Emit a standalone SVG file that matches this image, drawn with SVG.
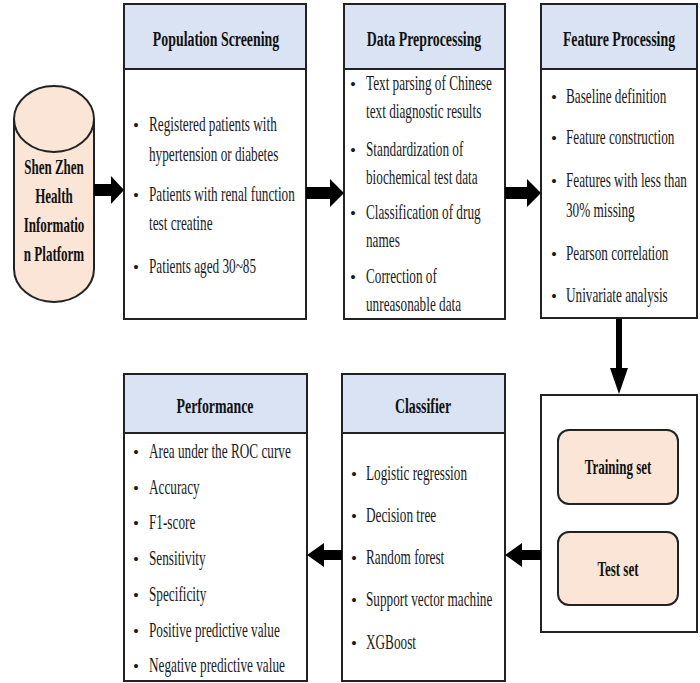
<svg xmlns="http://www.w3.org/2000/svg" width="700" height="683" viewBox="0 0 700 683">
<style>
.box{fill:#fff;stroke:#222;stroke-width:2}
.hdr{fill:#dae3f3;stroke:#222;stroke-width:2}
.peach{fill:#fbe5d6;stroke:#222;stroke-width:2}
.t{font-family:"Liberation Serif","Times New Roman",serif;font-size:21px;fill:#1a1a1a}
.u{font-family:"Liberation Serif","Times New Roman",serif;font-size:17px;fill:#1a1a1a;text-anchor:middle}
.b{font-family:"Liberation Serif","Times New Roman",serif;font-size:22px;font-weight:bold;fill:#111;text-anchor:middle}
.c{font-family:"Liberation Serif","Times New Roman",serif;font-size:21px;font-weight:bold;fill:#111;text-anchor:middle}
.arr{fill:#000}
</style>
<rect width="700" height="683" fill="#fff"/>

<g id="source">
<path class="peach" d="M14,119 L14,269 A40,33 0 0 0 94,269 L94,119"/>
<ellipse class="peach" cx="54" cy="119" rx="40" ry="33"/>
<g transform="translate(54,0) scale(0.62,1)">
<text class="c" x="0" y="174">Shen Zhen</text>
<text class="c" x="0" y="203">Health</text>
<text class="c" x="0" y="232">Informatio</text>
<text class="c" x="0" y="261">n Platform</text>
</g>
</g>

<g id="population-screening">
<rect class="box" x="124" y="4" width="182" height="315"/>
<rect class="hdr" x="124" y="4" width="182" height="65"/>
<text class="b" transform="translate(216,46) scale(0.63,1)">Population Screening</text>
<g class="u">
<text x="136" y="131">•</text>
<text x="136" y="201">•</text>
<text x="136" y="273">•</text>
</g>
<g transform="translate(149,0) scale(0.63,1)">
<text class="t" x="0" y="131">Registered patients with</text>
<text class="t" x="0" y="161">hypertension or diabetes</text>
<text class="t" x="0" y="201">Patients with renal function</text>
<text class="t" x="0" y="230">test creatine</text>
<text class="t" x="0" y="273">Patients aged 30~85</text>
</g>
</g>

<g id="data-preprocessing">
<rect class="box" x="344" y="4" width="161" height="315"/>
<rect class="hdr" x="344" y="4" width="161" height="65"/>
<text class="b" transform="translate(424,46) scale(0.63,1)">Data Preprocessing</text>
<g class="u">
<text x="353" y="90">•</text>
<text x="353" y="156">•</text>
<text x="353" y="219">•</text>
<text x="353" y="283">•</text>
</g>
<g transform="translate(366,0) scale(0.63,1)">
<text class="t" x="0" y="90">Text parsing of Chinese</text>
<text class="t" x="0" y="118">text diagnostic results</text>
<text class="t" x="0" y="156">Standardization of</text>
<text class="t" x="0" y="184">biochemical test data</text>
<text class="t" x="0" y="219">Classification of drug</text>
<text class="t" x="0" y="247">names</text>
<text class="t" x="0" y="283">Correction of</text>
<text class="t" x="0" y="311">unreasonable data</text>
</g>
</g>

<g id="feature-processing">
<rect class="box" x="541" y="4" width="156" height="314"/>
<rect class="hdr" x="541" y="4" width="156" height="65"/>
<text class="b" transform="translate(619,46) scale(0.63,1)">Feature Processing</text>
<g class="u">
<text x="554" y="103">•</text>
<text x="554" y="144">•</text>
<text x="554" y="187">•</text>
<text x="554" y="260">•</text>
<text x="554" y="302">•</text>
</g>
<g transform="translate(566,0) scale(0.63,1)">
<text class="t" x="0" y="103">Baseline definition</text>
<text class="t" x="0" y="144">Feature construction</text>
<text class="t" x="0" y="187">Features with less than</text>
<text class="t" x="0" y="217">30% missing</text>
<text class="t" x="0" y="260">Pearson correlation</text>
<text class="t" x="0" y="302">Univariate analysis</text>
</g>
</g>

<g id="data-split">
<rect class="box" x="541" y="395" width="156" height="237"/>
</g>
<g id="training-set">
<rect class="peach" x="558" y="430" width="120" height="74" rx="11"/>
<text class="c" transform="translate(618,474) scale(0.62,1)">Training set</text>
</g>
<g id="test-set">
<rect class="peach" x="558" y="532" width="120" height="73" rx="11"/>
<text class="c" transform="translate(618,576) scale(0.62,1)">Test set</text>
</g>

<g id="classifier">
<rect class="box" x="342" y="374" width="163" height="307"/>
<rect class="hdr" x="342" y="374" width="163" height="59"/>
<text class="b" transform="translate(423,413) scale(0.63,1)">Classifier</text>
<g class="u">
<text x="354" y="480">•</text>
<text x="354" y="522">•</text>
<text x="354" y="564">•</text>
<text x="354" y="606">•</text>
<text x="354" y="649">•</text>
</g>
<g transform="translate(366,0) scale(0.63,1)">
<text class="t" x="0" y="480">Logistic regression</text>
<text class="t" x="0" y="522">Decision tree</text>
<text class="t" x="0" y="564">Random forest</text>
<text class="t" x="0" y="606">Support vector machine</text>
<text class="t" x="0" y="649">XGBoost</text>
</g>
</g>

<g id="performance">
<rect class="box" x="124" y="374" width="183" height="307"/>
<rect class="hdr" x="124" y="374" width="183" height="59"/>
<text class="b" transform="translate(215,413) scale(0.63,1)">Performance</text>
<g class="u">
<text x="136" y="458">•</text>
<text x="136" y="494">•</text>
<text x="136" y="529">•</text>
<text x="136" y="565">•</text>
<text x="136" y="601">•</text>
<text x="136" y="637">•</text>
<text x="136" y="672">•</text>
</g>
<g transform="translate(149,0) scale(0.63,1)">
<text class="t" x="0" y="458">Area under the ROC curve</text>
<text class="t" x="0" y="494">Accuracy</text>
<text class="t" x="0" y="529">F1-score</text>
<text class="t" x="0" y="565">Sensitivity</text>
<text class="t" x="0" y="601">Specificity</text>
<text class="t" x="0" y="637">Positive predictive value</text>
<text class="t" x="0" y="672">Negative predictive value</text>
</g>
</g>

<g id="connectors">
<polygon class="arr" points="94,184 111,184 111,176 124,190 111,204 111,196 94,196"/>
<polygon class="arr" points="306,187 330,187 330,179 344,193 330,207 330,199 306,199"/>
<polygon class="arr" points="505,187 527,187 527,179 541,193 527,207 527,199 505,199"/>
<polygon class="arr" points="616,319 622,319 622,368 628,368 619,394 610,368 616,368"/>
<polygon class="arr" points="541,550 522,550 522,543 505,555 522,567 522,560 541,560"/>
<polygon class="arr" points="342,550 324,550 324,543 307,555 324,567 324,560 342,560"/>
</g>
</svg>
